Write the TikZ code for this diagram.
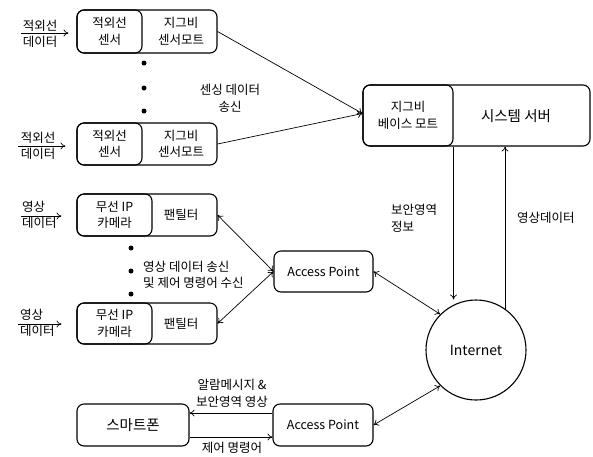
\documentclass[tikz,border=0pt]{standalone}
\usepackage{fontspec}
\setmainfont{Noto Sans CJK KR}
\usetikzlibrary{arrows.meta}
\tikzset{
  box/.style={draw, line width=1.1pt, rounded corners=7pt, inner sep=0pt, align=center},
  txt/.style={inner sep=0pt, align=center},
  link/.style={line width=0.7pt, -{To[length=5pt,width=7pt]}},
  twoway/.style={line width=0.7pt, {To[length=5pt,width=7pt]}-{To[length=5pt,width=7pt]}},
  bullet/.style={circle, fill, inner sep=0pt, minimum size=5pt},
}

\begin{document}
\begin{tikzpicture}[x=1pt, y=-1pt, font=\fontsize{12.5}{16.5}\selectfont]
    \useasboundingbox (0,0) rectangle (593,456);

    %Nodes
    \node[box, minimum width=140pt, minimum height=43pt] at (147,31.5) (s1) {};
    \node[box, minimum width=65pt, minimum height=43pt] at (109.5,31.5) (s1l) {적외선\\센서};
    \node[txt] at (181,31.5) (s1r) {지그비\\센서모트};
    \node[box, minimum width=140pt, minimum height=42pt] at (147,144) (s2) {};
    \node[box, minimum width=65pt, minimum height=42pt] at (109.5,144) (s2l) {적외선\\센서};
    \node[txt] at (181,144) (s2r) {지그비\\센서모트};

    \node[box, minimum width=140pt, minimum height=42pt] at (147,215) (c1) {};
    \node[box, minimum width=75pt, minimum height=42pt] at (114.5,215) (c1l) {무선 IP\\카메라};
    \node[txt] at (181,215) (c1r) {팬틸터};
    \node[box, minimum width=140pt, minimum height=41pt] at (147,323.5) (c2) {};
    \node[box, minimum width=75pt, minimum height=41pt] at (114.5,323.5) (c2l) {무선 IP\\카메라};
    \node[txt] at (181,323.5) (c2r) {팬틸터};

    \node[box, minimum width=227pt, minimum height=61pt] at (476.5,115.5) (srv) {};
    \node[box, minimum width=90pt, minimum height=61pt] at (408,115.5) (srvl) {지그비\\베이스 모트};
    \node[txt, font=\fontsize{14.5}{17}\selectfont] at (516,116) (srvr) {시스템 서버};

    \node[box, minimum width=99pt, minimum height=41pt] at (323.5,271.5) (ap1) {Access Point};
    \node[draw, circle, line width=1.1pt, minimum size=100pt, inner sep=0pt, font=\fontsize{14}{17}\selectfont] at (476,350) (inet) {Internet};
    \node[box, minimum width=112pt, minimum height=42pt, font=\fontsize{14.5}{17}\selectfont] at (133,425) (phone) {스마트폰};
    \node[box, minimum width=100pt, minimum height=42pt] at (323,425) (ap2) {Access Point};

    \node[bullet] at (144,63) (d1) {};
    \node[bullet] at (144,88) (d2) {};
    \node[bullet] at (144,111) (d3) {};
    \node[bullet] at (131,248) (d4) {};
    \node[bullet] at (131,271) (d5) {};
    \node[bullet] at (131,294) (d6) {};

    \node[txt] at (40,34) (in1) {적외선\\데이터};
    \node[txt] at (38,146) (in2) {적외선\\데이터};
    \node[txt, align=left, anchor=west] at (22,215) (in3) {영상\\데이터};
    \node[txt, align=left, anchor=west] at (20,323) (in4) {영상\\데이터};
    \coordinate (a1) at (21,33);
    \coordinate (a2) at (18,146);
    \coordinate (a3) at (21,216);
    \coordinate (a4) at (18,324);

    \node[txt] at (230,98.5) (l1) {센싱 데이터\\송신};
    \node[txt, align=left, anchor=west] at (143,275) (l2) {영상 데이터 송신\\및 제어 명령어 수신};
    \node[txt, align=left, anchor=west] at (391,218.5) (l3) {보안영역\\정보};
    \node[txt, anchor=west] at (517,218) (l4) {영상데이터};
    \node[txt] at (232,393.5) (l5) {알람메시지 \&\\보안영역 영상};
    \node[txt] at (232,448) (l6) {제어 명령어};

    %Lines
    \draw[link] (a1) -- ([xshift=-8pt]s1.west |- a1);
    \draw[link] (a2) -- ([xshift=-11pt]s2.west |- a2);
    \draw[link] (a3) -- ([xshift=-15pt]c1.west |- a3);
    \draw[link] (a4) -- ([xshift=-15pt]c2.west |- a4);
    \draw[link] (s1.east) -- ([yshift=2pt]srv.west);
    \draw[link] (s2.east) -- ([yshift=2pt]srv.west);
    \draw[twoway] (c1.east) -- (ap1.west);
    \draw[twoway] (c2.east) -- (ap1.west);
    \draw[twoway] (ap1.east) -- (inet.north west);
    \draw[link] (srvl.south east) -- (srvl.south east |- inet.north);
    \draw[link] (inet.55) -- (inet.55 |- srv.south);
    \draw[twoway] (ap2.east) -- (inet.south west);
    \draw[link] ([yshift=12pt]ap2.west) -- ([yshift=12pt]phone.east);
    \draw[link] ([yshift=-12pt]phone.east) -- ([yshift=-12pt]ap2.west);
\end{tikzpicture}
\end{document}
